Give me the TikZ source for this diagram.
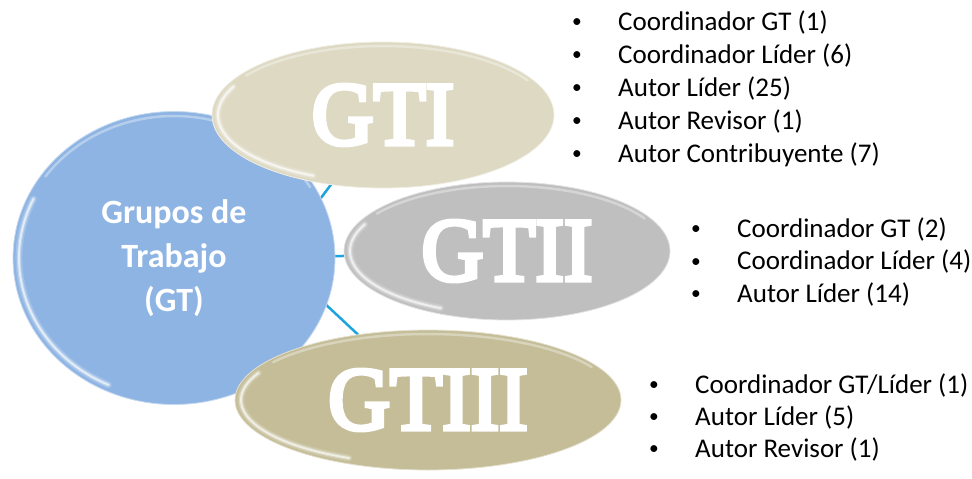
\documentclass[tikz,border=0pt]{standalone}
\usepackage{fontspec}
\setmainfont{Carlito}[BoldFont={Carlito Bold}]
\newfontfamily\gtfont{Liberation Serif}[FakeBold=5]
\usepackage{xcolor}
\usepackage{tikz}
\usetikzlibrary{shapes.geometric,backgrounds}

\definecolor{gtblue}{RGB}{142,180,227}
\definecolor{gtone}{RGB}{221,217,195}
\definecolor{gttwo}{RGB}{191,191,191}
\definecolor{gtthree}{RGB}{196,189,151}
\definecolor{linkblue}{RGB}{30,163,220}

\newcommand\bul{\llap{\makebox[46pt][l]{\raisebox{2.5pt}{\scalebox{0.72}{\textbullet}}}}}
\newcommand\wide[1]{\scalebox{0.95}[1]{#1}}
% soft white glow along the rim of an ellipse: cx, cy, rx, ry
\newcommand\glow[4]{%
  \foreach \w/\o in {7/.15, 4/.3, 1.8/.6}{
    \draw[white, opacity=\o, line width=\w pt, line cap=round] (#1,#2) ++(115:{#3-6} and {#4-6})
      arc[start angle=115, end angle=205, x radius={#3-6}, y radius={#4-6}];
  }
  \draw[white, opacity=.35, line width=2.5pt, line cap=round] (#1,#2) ++(215:{#3-4} and {#4-4})
    arc[start angle=215, end angle=330, x radius={#3-4}, y radius={#4-4}];}

\tikzset{
  grupo/.style={ellipse, inner sep=0pt, text=white, draw=white!55!#1, line width=.8pt, fill=#1,
    font=\gtfont\fontsize{90}{90}\selectfont},
  item/.style={anchor=base west, inner sep=0pt, font=\fontsize{27}{33}\selectfont},
  link/.style={linkblue, line width=2.5pt},
}

\begin{document}
\begin{tikzpicture}[x=1pt,y=-1pt]
\useasboundingbox (0,0) rectangle (972,479);
\node[ellipse, fill=gtblue, draw=white!50!gtblue, line width=.8pt, minimum width=322, minimum height=293,
  align=center, text=white, font=\bfseries\fontsize{34}{44}\selectfont] (gt) at (174,258)
  {Grupos de\\Trabajo\\(GT)};
\glow{174}{258}{161}{146}
\coordinate (hub) at (276,258);

\node[grupo=gtthree, minimum width=386, minimum height=140] (gtiii) at (428,400) {\wide{GTIII}};
\glow{428}{400}{193}{70}
\node[grupo=gttwo, minimum width=326, minimum height=138] (gtii) at (507,251) {\wide{GTII}};
\glow{507}{251}{163}{69}
\node[grupo=gtone, minimum width=342, minimum height=146] (gti) at (383,115) {\wide{GTI}};
\glow{383}{115}{171}{73}

\begin{scope}[on background layer]
  \draw[link] (hub) -- (gti.center);
  \draw[link] (hub) -- (gtii.center);
  \draw[link] (hub) -- (gtiii.center);
\end{scope}

% lists
\foreach \txt [count=\i from 0] in {Coordinador GT (1), Coordinador Líder (6), Autor Líder (25),
    Autor Revisor (1), Autor Contribuyente (7)}
  \node[item] (uno-\i) at (618,{30+33*\i}) {\bul\txt};
\foreach \txt [count=\i from 0] in {Coordinador GT (2), Coordinador Líder (4), Autor Líder (14)}
  \node[item] (dos-\i) at (737,{237+32.5*\i}) {\bul\txt};
\foreach \txt [count=\i from 0] in {Coordinador GT/Líder (1), Autor Líder (5), Autor Revisor (1)}
  \node[item] (tres-\i) at (695,{393+32*\i}) {\bul\txt};
\end{tikzpicture}
\end{document}
